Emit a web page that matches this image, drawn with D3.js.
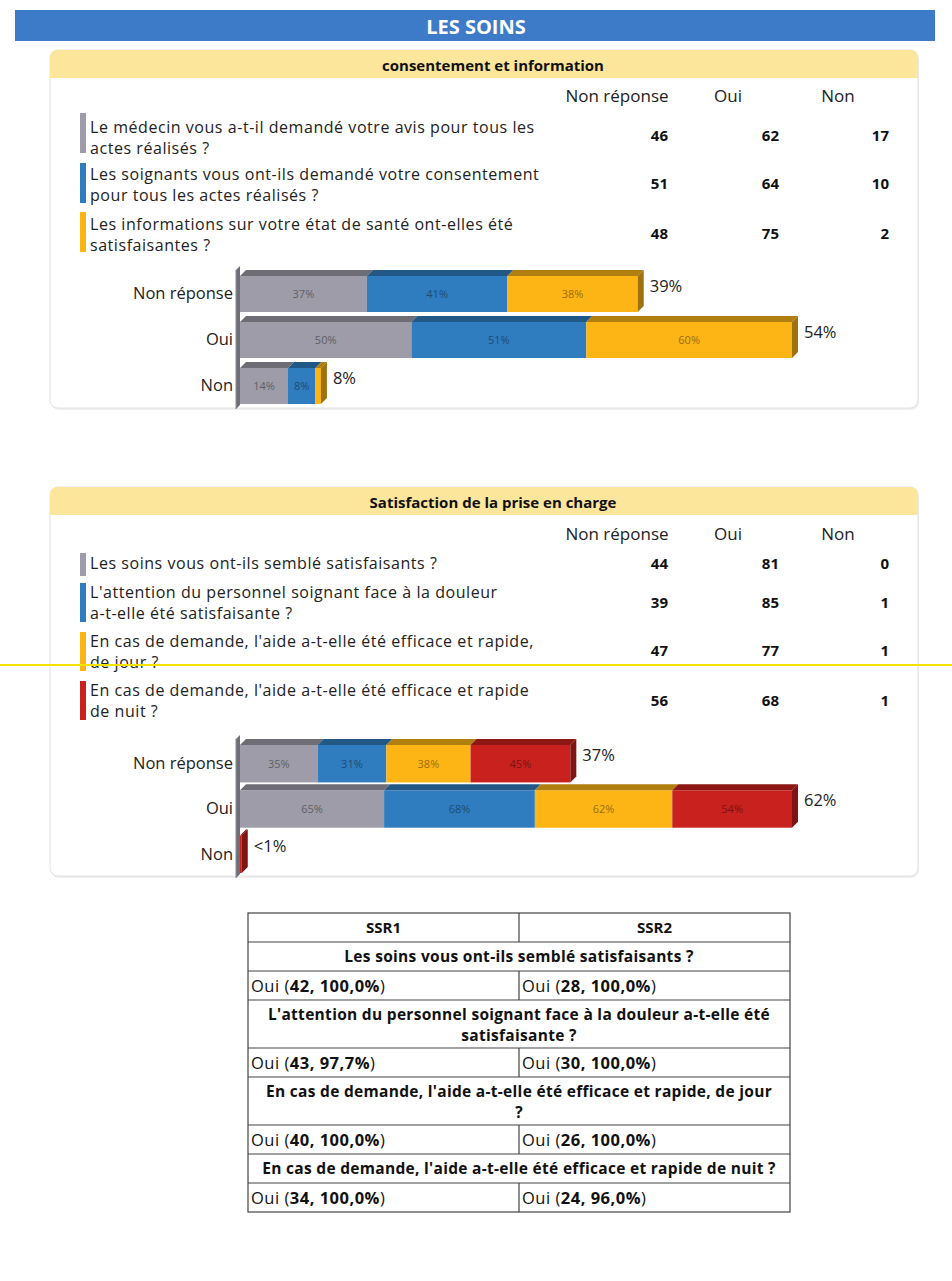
<!DOCTYPE html>
<html><head><meta charset="utf-8">
<script src="https://cdn.jsdelivr.net/npm/d3@7"></script>
<style>body{margin:0;background:#fff} svg{display:block} text{font-family:"Open Sans",sans-serif}</style>
</head><body><svg id="c" width="952" height="1281"></svg>
<script>
// ---------------- DATA ----------------
const pageTitle = "LES SOINS";
const responseCategories = ["Non réponse", "Oui", "Non"];

const panel1Title = "consentement et information";
const panel1Questions = [
  ["Le médecin vous a-t-il demandé votre avis pour tous les", "actes réalisés ?"],
  ["Les soignants vous ont-ils demandé votre consentement", "pour tous les actes réalisés ?"],
  ["Les informations sur votre état de santé ont-elles été", "satisfaisantes ?"]
];
const panel1Counts = [[46, 62, 17], [51, 64, 10], [48, 75, 2]];
// percentages per response category (rows) and question (columns)
const panel1Pct = [[37, 41, 38], [50, 51, 60], [14, 8, 1.6]];
const panel1Totals = ["39%", "54%", "8%"];
const panel1Colors = ["#9d9ca8", "#2f7dbf", "#fdb516"];

const panel2Title = "Satisfaction de la prise en charge";
const panel2Questions = [
  ["Les soins vous ont-ils semblé satisfaisants ?"],
  ["L'attention du personnel soignant face à la douleur", "a-t-elle été satisfaisante ?"],
  ["En cas de demande, l'aide a-t-elle été efficace et rapide,", "de jour ?"],
  ["En cas de demande, l'aide a-t-elle été efficace et rapide", "de nuit ?"]
];
const panel2Counts = [[44, 81, 0], [39, 85, 1], [47, 77, 1], [56, 68, 1]];
const panel2Pct = [[35, 31, 38, 45], [65, 68, 62, 54], [0, 0, 0, 0.8]];
const panel2Totals = ["37%", "62%", "<1%"];
const panel2Colors = ["#9d9ca8", "#2f7dbf", "#fdb516", "#c9211e"];

const tableHeaders = ["SSR1", "SSR2"];
const tableQuestions = [
  ["Les soins vous ont-ils semblé satisfaisants ?"],
  ["L'attention du personnel soignant face à la douleur a-t-elle été", "satisfaisante ?"],
  ["En cas de demande, l'aide a-t-elle été efficace et rapide, de jour", "?"],
  ["En cas de demande, l'aide a-t-elle été efficace et rapide de nuit ?"]
];
const tableSSR1 = [["42", "100,0%"], ["43", "97,7%"], ["40", "100,0%"], ["34", "100,0%"]];
const tableSSR2 = [["28", "100,0%"], ["30", "100,0%"], ["26", "100,0%"], ["24", "96,0%"]];

// ---------------- DRAW ----------------
const svg = d3.select("#c");
svg.append("rect").attr("width", 952).attr("height", 1281).attr("fill", "#fff");

// banner
svg.append("rect").attr("x", 15).attr("y", 10).attr("width", 920).attr("height", 31).attr("fill", "#3d7ac8");
svg.append("text").attr("x", 476).attr("y", 34).attr("text-anchor", "middle")
  .attr("fill", "#fff").attr("font-weight", "bold").attr("font-size", 20).attr("font-family", "Open Sans")
  .text(pageTitle);

function darker(c, k) { return d3.color(c).darker(k).formatHex(); }

function drawPanel(cfg) {
  const g = svg.append("g");
  // box
  g.append("rect").attr("x", 51).attr("y", cfg.boxY + 2).attr("width", 868).attr("height", cfg.boxH)
    .attr("rx", 8).attr("fill", "#eeeeee");
  g.append("rect").attr("x", 50).attr("y", cfg.boxY).attr("width", 868).attr("height", cfg.boxH)
    .attr("rx", 8).attr("fill", "#fff").attr("stroke", "#e2e2e2");
  g.append("path").attr("fill", "#fbe69c")
    .attr("d", `M50,${cfg.boxY + 28} L50,${cfg.boxY + 8} Q50,${cfg.boxY} 58,${cfg.boxY} L910,${cfg.boxY} Q918,${cfg.boxY} 918,${cfg.boxY + 8} L918,${cfg.boxY + 28} Z`);
  g.append("text").attr("x", 493).attr("y", cfg.boxY + 21).attr("text-anchor", "middle")
    .attr("font-weight", "bold").attr("font-size", 15).attr("fill", "#111").text(cfg.title);

  // column headers
  const colCenters = [617, 728, 838];
  const colRight = [668, 779, 889];
  responseCategories.forEach((c, i) => {
    g.append("text").attr("x", colCenters[i]).attr("y", cfg.colHeaderY).attr("text-anchor", "middle")
      .attr("font-size", 17).attr("fill", "#222").text(c);
  });

  // question rows
  cfg.questions.forEach((lines, qi) => {
    const r = cfg.rows[qi];
    g.append("rect").attr("x", 80).attr("y", r.barTop).attr("width", 6).attr("height", r.barH)
      .attr("fill", cfg.colors[qi]);
    lines.forEach((ln, li) => {
      g.append("text").attr("x", 90).attr("y", r.textY + li * 21).attr("font-size", 16)
        .attr("letter-spacing", 0.55).attr("fill", "#222").text(ln);
    });
    cfg.counts[qi].forEach((v, ci) => {
      g.append("text").attr("x", colRight[ci]).attr("y", r.numY).attr("text-anchor", "end")
        .attr("font-weight", "bold").attr("font-size", 15).attr("fill", "#111").text(v);
    });
  });

  // bar chart
  const sums = cfg.pct.map(a => d3.sum(a));
  const x = d3.scaleLinear().domain([0, d3.max(sums)]).range([240, 792]);
  const y = d3.scaleBand().domain(responseCategories).range(cfg.barRange).paddingInner(cfg.padInner).paddingOuter(0);
  const d = 6, h = y.bandwidth();

  // left wall
  const wallTop = y(responseCategories[0]) - d - 4;
  const wallBot = y(responseCategories[2]) + h + 5;
  g.append("path").attr("fill", "#6e6e78")
    .attr("d", `M236,${wallTop + 4} L240,${wallTop} L240,${wallBot - 4} L236,${wallBot} Z`);
  g.append("line").attr("x1", 236).attr("x2", 236).attr("y1", wallTop + 4).attr("y2", wallBot)
    .attr("stroke", "#8a8a92").attr("stroke-width", 1);

  const axis = d3.axisLeft(y).tickSize(0).tickPadding(3);
  const ag = g.append("g").attr("transform", "translate(236,0)").call(axis);
  ag.select(".domain").remove();
  ag.selectAll("text").attr("font-size", 16.5).attr("fill", "#222").attr("font-family", "Open Sans");

  responseCategories.forEach((cat, ri) => {
    const vals = cfg.pct[ri];
    let acc = 0;
    const y0 = y(cat);
    const segs = vals.map((v, qi) => { const s = { x0: x(acc), x1: x(acc + v), v, qi }; acc += v; return s; });
    segs.forEach(s => {
      if (s.x1 - s.x0 <= 0) return;
      const col = cfg.colors[s.qi];
      g.append("rect").attr("x", s.x0).attr("y", y0).attr("width", s.x1 - s.x0).attr("height", h).attr("fill", col);
      g.append("path").attr("fill", darker(col, 1.0))
        .attr("d", `M${s.x0},${y0} L${s.x1},${y0} L${s.x1 + d},${y0 - d} L${s.x0 + d},${y0 - d} Z`);
      if (s.x1 - s.x0 > 20) {
        g.append("text").attr("x", (s.x0 + s.x1) / 2).attr("y", y0 + h / 2 + 4).attr("text-anchor", "middle")
          .attr("font-size", 11).attr("fill", darker(col, 1.4)).text(Math.round(s.v) + "%");
      }
    });
    const last = segs.filter(s => s.x1 - s.x0 > 0).pop();
    const lc = cfg.colors[last.qi];
    g.append("path").attr("fill", darker(lc, 1.3))
      .attr("d", `M${last.x1},${y0} L${last.x1 + d},${y0 - d} L${last.x1 + d},${y0 + h - d} L${last.x1},${y0 + h} Z`);
    g.append("text").attr("x", last.x1 + d + 6).attr("y", y0 + 16).attr("font-size", 16.5).attr("fill", "#222")
      .text(cfg.totals[ri]);
  });
}

drawPanel({
  boxY: 50, boxH: 358, title: panel1Title, colHeaderY: 102,
  questions: panel1Questions, counts: panel1Counts, colors: panel1Colors, pct: panel1Pct, totals: panel1Totals,
  rows: [
    { barTop: 113, barH: 40, textY: 133, numY: 141 },
    { barTop: 163, barH: 40, textY: 180, numY: 189 },
    { barTop: 212, barH: 40, textY: 230, numY: 239 }
  ],
  barRange: [276, 404], padInner: 10 / 46
});

drawPanel({
  boxY: 487, boxH: 389, title: panel2Title, colHeaderY: 540,
  questions: panel2Questions, counts: panel2Counts, colors: panel2Colors, pct: panel2Pct, totals: panel2Totals,
  rows: [
    { barTop: 553, barH: 23, textY: 569, numY: 569 },
    { barTop: 583, barH: 39, textY: 598, numY: 608 },
    { barTop: 632, barH: 39, textY: 647, numY: 656 },
    { barTop: 681, barH: 39, textY: 696, numY: 706 }
  ],
  barRange: [745, 873], padInner: 8 / 46
});

// stray yellow line across the page
svg.append("line").attr("x1", 0).attr("x2", 952).attr("y1", 665).attr("y2", 665)
  .attr("stroke", "#f6e200").attr("stroke-width", 2);

// table
const tg = svg.append("g");
const tX0 = 248, tX1 = 790, tMid = 519;
const rowHs = [29];
tableQuestions.forEach(q => { rowHs.push(q.length > 1 ? 48 : 29); rowHs.push(29); });
let yy = 913;
const rowYs = rowHs.map(hh => { const r = yy; yy += hh; return r; });
const tEnd = yy;
tg.append("rect").attr("x", tX0).attr("y", 913).attr("width", tX1 - tX0).attr("height", tEnd - 913)
  .attr("fill", "none").attr("stroke", "#444").attr("stroke-width", 1.2);
rowYs.slice(1).forEach(ry => tg.append("line").attr("x1", tX0).attr("x2", tX1).attr("y1", ry).attr("y2", ry)
  .attr("stroke", "#444").attr("stroke-width", 1.2));
[0].concat(tableQuestions.map((q, i) => 2 + i * 2)).forEach(ri => {
  tg.append("line").attr("x1", tMid).attr("x2", tMid).attr("y1", rowYs[ri]).attr("y2", rowYs[ri] + rowHs[ri])
    .attr("stroke", "#444").attr("stroke-width", 1.2);
});
tableHeaders.forEach((hd, i) => {
  tg.append("text").attr("x", i === 0 ? (tX0 + tMid) / 2 : (tMid + tX1) / 2).attr("y", rowYs[0] + 20)
    .attr("text-anchor", "middle").attr("font-weight", "bold").attr("font-size", 15).attr("fill", "#111").text(hd);
});
tableQuestions.forEach((q, i) => {
  const ri = 1 + i * 2;
  q.forEach((ln, li) => {
    tg.append("text").attr("x", (tX0 + tX1) / 2).attr("y", rowYs[ri] + 20 + li * 21).attr("text-anchor", "middle")
      .attr("font-weight", "bold").attr("font-size", 15.5).attr("letter-spacing", 0.3).attr("fill", "#111").text(ln);
  });
  [tableSSR1[i], tableSSR2[i]].forEach((ans, ci) => {
    const t = tg.append("text").attr("x", ci === 0 ? tX0 + 3 : tMid + 3).attr("y", rowYs[ri + 1] + 21)
      .attr("font-size", 16.5).attr("letter-spacing", 0.5).attr("fill", "#111");
    t.append("tspan").text("Oui (");
    t.append("tspan").attr("font-weight", "bold").text(ans[0] + ", " + ans[1]);
    t.append("tspan").text(")");
  });
});
</script></body></html>
